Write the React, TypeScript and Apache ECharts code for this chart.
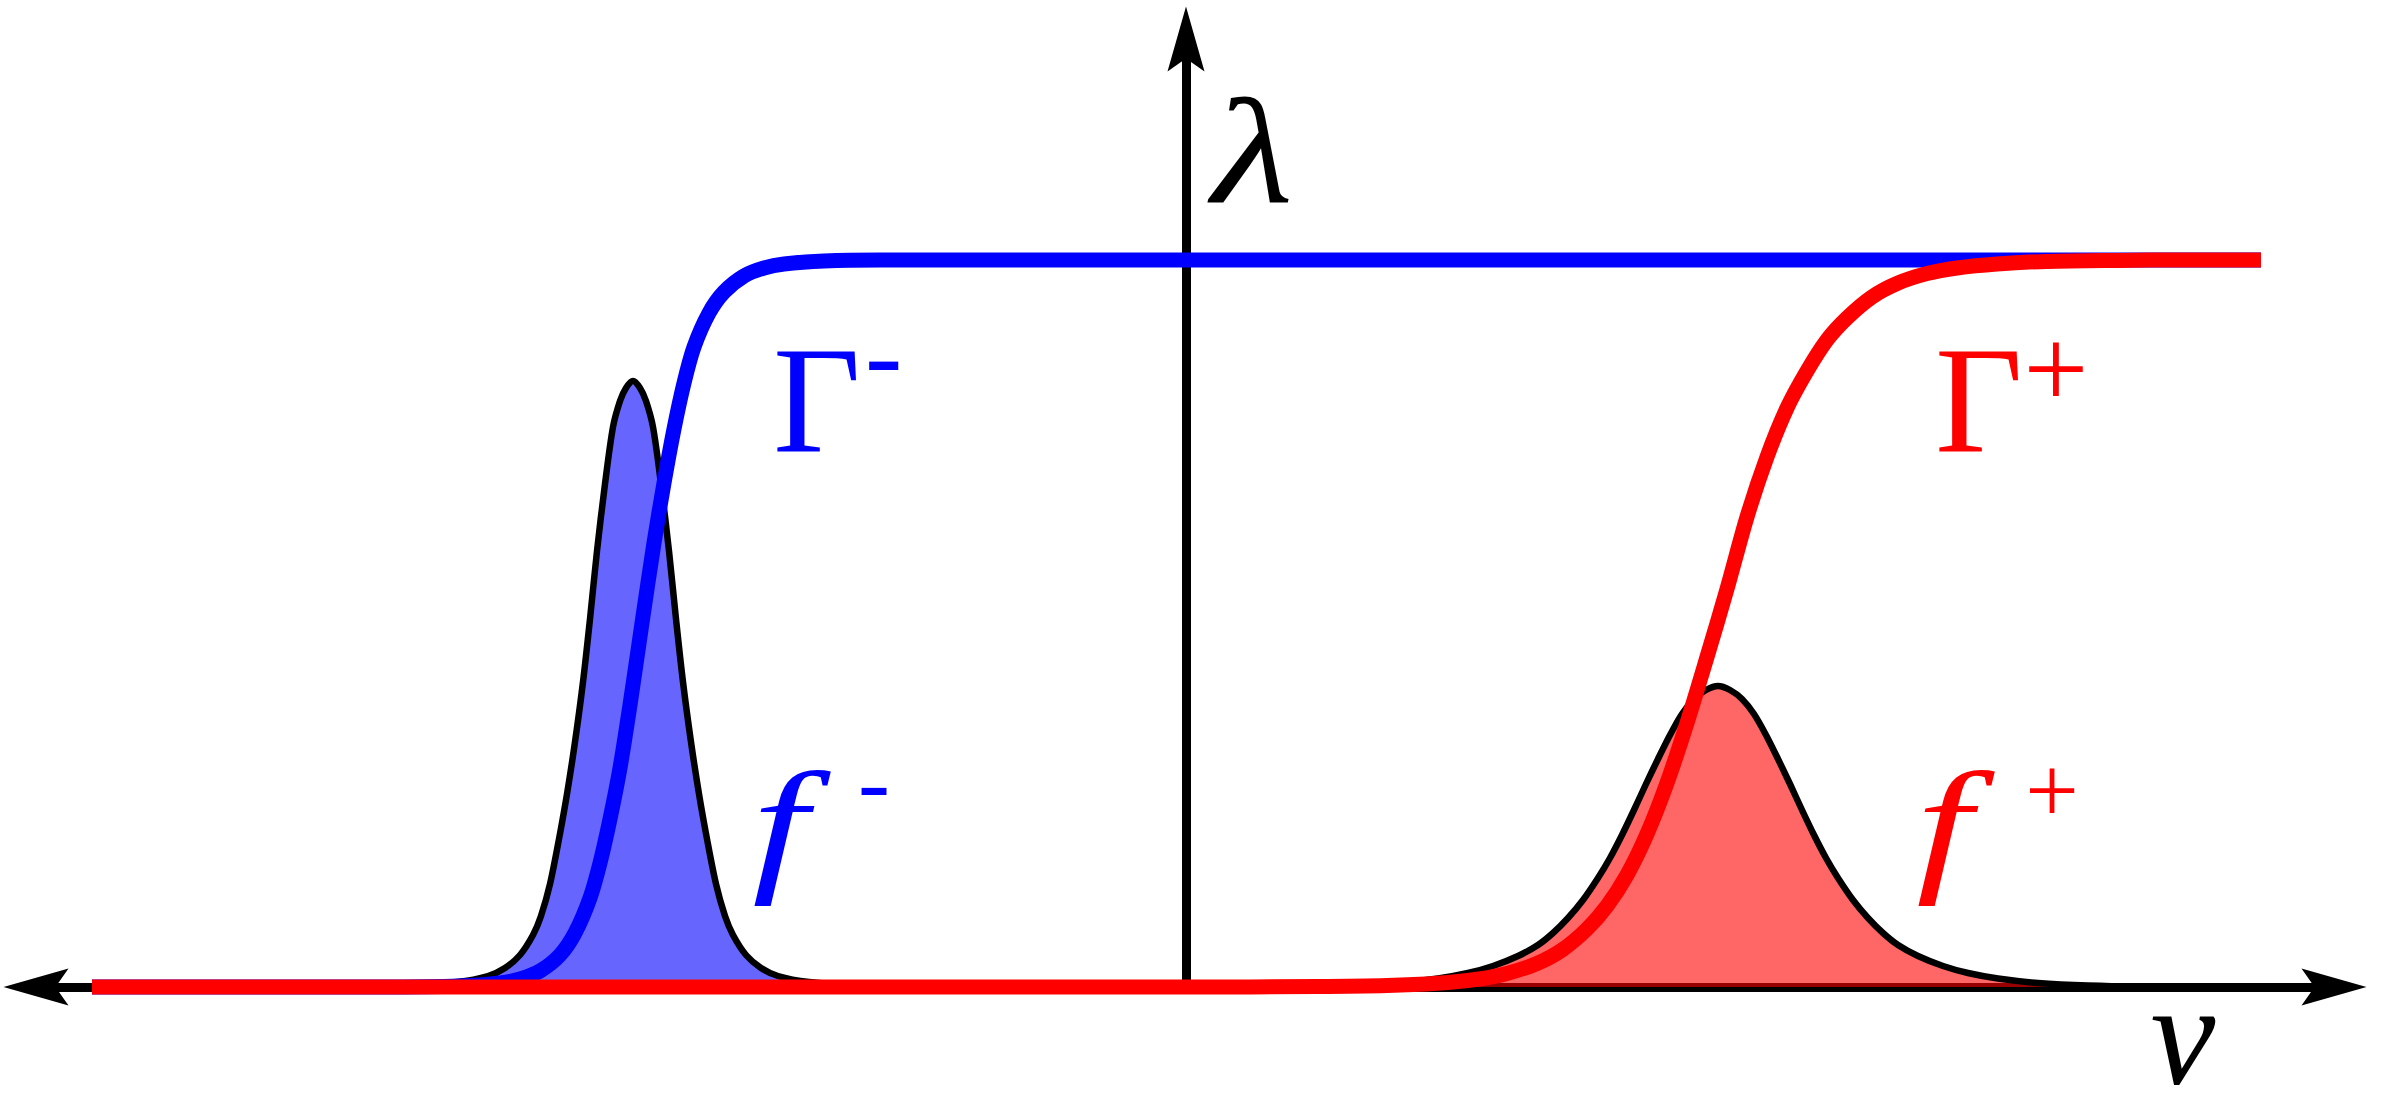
import React, { useEffect, useRef } from "react";
import * as echarts from "echarts";

const W = 2382;
const H = 1117;

// ν positions are measured from the λ axis, λ values are heights above the ν axis
// Γ⁻ (blue sigmoid)
const gammaMinusNu = [-1094, -806, -726, -686, -666, -646, -626, -611, -596, -586, -576, -566, -556, -544, -532, -522, -512, -502, -492, -477, -462, -442, -422, -402, -362, -306, 1075];
const gammaMinusLambda = [0, 0, 1, 4, 8, 16, 32, 54, 89, 124, 168, 219, 282, 364, 444, 504, 558, 604, 640, 674, 695, 711, 719, 723, 726, 727, 727];

// f⁻ (blue filled peak)
const fMinusNu = [-1094, -853, -778, -729, -698, -681, -666, -653, -645, -636, -627, -619, -611, -603, -596, -589, -581, -573, -566, -560, -553, -546, -540, -533, -525, -517, -510, -503, -495, -487, -479, -470, -461, -453, -440, -425, -408, -377, -328, -253];
const fMinusLambda = [0, 0, 1.5, 5, 11, 19, 32, 52, 71, 103, 148, 193, 245, 305, 368, 436, 503, 560, 586, 599, 606, 599, 586, 560, 503, 436, 368, 305, 245, 193, 148, 103, 71, 52, 32, 19, 11, 5, 1.5, 0];

// Γ⁺ (red sigmoid)
const gammaPlusNu = [-1094, 0, 131, 201, 251, 291, 321, 351, 376, 401, 421, 441, 461, 481, 501, 521, 541, 561, 581, 601, 621, 641, 661, 686, 711, 741, 771, 811, 861, 931, 1000, 1075];
const gammaPlusLambda = [0, 0, 0.4, 1.4, 3.7, 7.8, 13.6, 23.5, 37, 58, 81, 112, 153, 204, 264, 330, 398, 470, 530, 579, 616, 647, 669, 690, 703.5, 713.4, 719, 723, 725.6, 726.6, 727, 727];

// f⁺ (red filled peak)
const fPlusNu = [82, 162, 212, 252, 282, 307, 332, 352, 367, 382, 397, 412, 424, 436, 448, 460, 472, 484, 496, 508, 520, 532, 544, 556, 568, 580, 592, 604, 616, 628, 640, 652, 667, 682, 697, 712, 732, 757, 782, 812, 852, 902, 982, 1075];
const fPlusLambda = [0, 1.5, 4, 8.5, 14, 21, 31, 42, 54, 69, 87, 109, 129, 152, 177, 203, 228, 252, 273, 288, 297, 301, 297, 288, 273, 252, 228, 203, 177, 152, 129, 109, 87, 69, 54, 42, 31, 21, 14, 8.5, 4, 1.5, 0, 0];

const ARROW = "path://M18.5,0 L37,65 L18.5,52 L0,65 Z";
const SERIF = "Liberation Serif";

const pairs = (xs: number[], ys: number[]) => xs.map((x, i) => [x, ys[i]]);

function txt(text: string, x: number, y: number, size: number, color: string, italic: boolean, align: string, scaleX = 1) {
  return {
    type: "text",
    x,
    y,
    scaleX,
    z: 100,
    style: {
      text,
      fill: color,
      fontSize: size,
      fontFamily: SERIF,
      fontStyle: italic ? "italic" : "normal",
      align,
      textAlign: align,
      verticalAlign: "middle",
      textVerticalAlign: "middle",
    },
  };
}

export default function App() {
  const ref = useRef<HTMLDivElement>(null);
  useEffect(() => {
    document.body.style.margin = "0";
    const chart = echarts.init(ref.current!, null, { renderer: "svg", width: W, height: H });
    const hidden = { show: false };
    const lineSeries = (name: string, data: number[][], color: string, width: number, z: number, fill?: string) => ({
      name,
      type: "line",
      data,
      smooth: 0.3,
      showSymbol: false,
      clip: false,
      lineStyle: { color, width, cap: "butt", join: "round" },
      areaStyle: fill ? { color: fill, opacity: 0.6 } : undefined,
      z,
    });
    chart.setOption({
      animation: false,
      backgroundColor: "#ffffff",
      grid: { left: 36, right: 48, top: 39, bottom: 130 },
      xAxis: {
        type: "value",
        min: -1150,
        max: 1148,
        axisLine: {
          show: true,
          onZero: true,
          symbol: [ARROW, ARROW],
          symbolSize: [37, 65],
          lineStyle: { color: "#000000", width: 9 },
        },
        axisTick: hidden,
        axisLabel: hidden,
        splitLine: hidden,
      },
      yAxis: {
        type: "value",
        min: 0,
        max: 948,
        axisLine: {
          show: true,
          onZero: true,
          symbol: ["none", ARROW],
          symbolSize: [38, 65],
          lineStyle: { color: "#000000", width: 9 },
        },
        axisTick: hidden,
        axisLabel: hidden,
        splitLine: hidden,
      },
      series: [
        lineSeries("f-", pairs(fMinusNu, fMinusLambda), "#000000", 6.5, 2, "#0000ff"),
        lineSeries("f+", pairs(fPlusNu, fPlusLambda), "#000000", 6.5, 2, "#ff0000"),
        lineSeries("Γ-", pairs(gammaMinusNu, gammaMinusLambda), "#0000ff", 15, 3),
        lineSeries("Γ+", pairs(gammaPlusNu, gammaPlusLambda), "#ff0000", 15, 4),
      ],
      graphic: [
        txt("λ", 1212, 153, 150, "#000000", true, "left", 1.25),
        txt("Γ", 773, 401, 152, "#0000ff", false, "left"),
        txt("-", 865, 354, 112, "#0000ff", false, "left"),
        txt("Γ", 1935, 401, 152, "#ff0000", false, "left"),
        txt("+", 2056, 368, 115, "#ff0000", false, "center"),
        txt("f", 780, 824, 148, "#0000ff", true, "center", 1.35),
        txt("-", 858, 781, 96, "#0000ff", false, "left"),
        txt("f", 1944, 824, 148, "#ff0000", true, "center", 1.35),
        txt("+", 2052, 790, 95, "#ff0000", false, "center"),
        txt("ν", 2183, 1035, 146, "#000000", true, "center"),
      ],
    });
    return () => chart.dispose();
  }, []);
  return <div ref={ref} style={{ width: W, height: H }} />;
}
